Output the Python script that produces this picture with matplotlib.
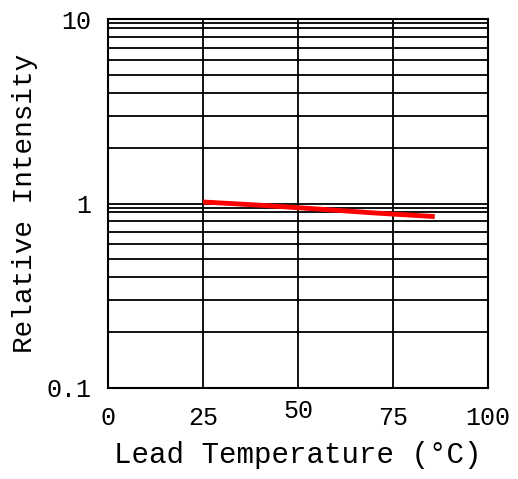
import numpy as np
import matplotlib.pyplot as plt
from matplotlib.ticker import FixedLocator, NullFormatter
import matplotlib.transforms as mtransforms

# data
temp = [25, 40, 55, 70, 86]
intensity = [1.02, 0.98, 0.935, 0.89, 0.85]

x_ticks = [0, 25, 50, 75, 100]
x_labels = ['0', '25', '50', '75', '100']
y_ticks = [0.1, 1, 10]
y_labels = ['0.1', '1', '10']

plt.rcParams['font.family'] = ['Liberation Mono', 'DejaVu Sans Mono']

fig = plt.figure(figsize=(5.18, 4.79), dpi=100)
ax = fig.add_axes([0.2085, 0.19, 0.7335, 0.77])

ax.set_yscale('log')
ax.set_xlim(0, 100)
ax.set_ylim(0.1, 10)

# grid: vertical lines at 25/50/75, horizontal log grid (with doubled decade lines)
for xv in [25, 50, 75]:
    ax.axvline(xv, color='black', lw=1.3, zorder=1)
grid_y = [v * d for d in [0.1, 1] for v in range(2, 10)] + [1, 0.95, 9.5]
for yv in grid_y:
    ax.axhline(yv, color='black', lw=1.3, zorder=1)

ax.plot(temp, intensity, color='#ff0000', lw=3.5, solid_capstyle='butt', zorder=3)

ax.set_xticks(x_ticks)
ax.set_xticklabels(x_labels, fontsize=18)
ax.yaxis.set_major_locator(FixedLocator(y_ticks))
ax.set_yticklabels(y_labels, fontsize=18)
ax.yaxis.set_minor_formatter(NullFormatter())
ax.tick_params(axis='both', which='both', length=0)
ax.tick_params(axis='x', pad=13)
ax.tick_params(axis='y', pad=12)

# the "50" label sits a little higher in the original
for lab in ax.get_xticklabels():
    if lab.get_text() == '50':
        lab.set_transform(lab.get_transform() + mtransforms.ScaledTranslation(0, 5 / 72, fig.dpi_scale_trans))

for sp in ax.spines.values():
    sp.set_color('black')
    sp.set_linewidth(1.5)

ax.set_xlabel('Lead Temperature (°C)', fontsize=21, labelpad=8)
ax.set_ylabel('Relative Intensity', fontsize=20, labelpad=6)

fig.savefig('out.png', dpi=100)
